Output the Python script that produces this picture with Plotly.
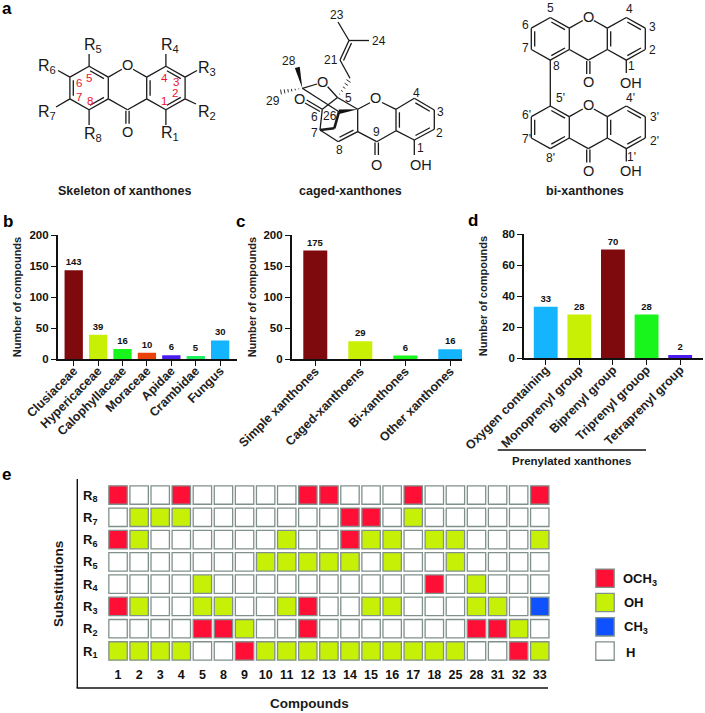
import plotly.graph_objects as go
import math

W, H = 705, 713
FONT = "Liberation Sans"
RED = "#ff0f35"; OHC = "#c6f005"; BLU = "#0f50ff"

# ---- data -----
b_cats = ["Clusiaceae", "Hypericaceae", "Calophyllaceae", "Moraceae", "Apidae", "Crambidae", "Fungus"]
b_vals = [143, 39, 16, 10, 6, 5, 30]
b_cols = ["#7f0a0e", "#c8f005", "#17f51c", "#e8420a", "#4b1cf0", "#1cf060", "#14b4ff"]

c_cats = ["Simple xanthones", "Caged-xanthoens", "Bi-xanthones", "Other xanthones"]
c_vals = [175, 29, 6, 16]
c_cols = ["#7f0a0e", "#c8f005", "#17f51c", "#14b4ff"]

d_cats = ["Oxygen containing", "Monoprenyl group", "Biprenyl group", "Triprenyl grouop", "Tetraprenyl group"]
d_vals = [33, 28, 70, 28, 2]
d_cols = ["#14b4ff", "#c8f005", "#7f0a0e", "#17f51c", "#4b1cf0"]

compounds = ["1","2","3","4","5","8","9","10","11","12","13","14","15","16","17","18","25","28","31","32","33"]
# H = none, M = OCH3, O = OH, C = CH3
R1 = list("OOOOHHMOOOOOOOOOOHHMO")
R2 = list("HHHHMMOHHMHHHHHHHMMOH")
R3 = list("MOHHOOHHOMHHOOHHHOOHC")
R4 = list("HHHHOHHHHHHHHHHMHOHHH")
R5 = list("HHHHHHHOOOOOHOHHOHHHH")
R6 = list("MOHHHHHHOHHMOOHOOHHHO")
R7 = list("HOOOHHHHHHHMMHOHHHHHH")
R8 = list("MHHMHHHHHMMHHHMHHHHHM")
rows = [R1, R2, R3, R4, R5, R6, R7, R8]
row_labels = ["R<sub>%d</sub>" % i for i in range(1, 9)]

kinds = ["M", "O", "C", "H"]
kind_names = ["OCH<sub>3</sub>", "OH", "CH<sub>3</sub>", "H"]
kind_cols = [RED, OHC, BLU, "#ffffff"]

# ---- helpers -----
def px(x): return x / W
def py(y): return 1 - y / H

shapes, ann = [], []

def line(a, b, w=1.3, c="#1a1a1a"):
    shapes.append(dict(type="line", xref="paper", yref="paper", x0=px(a[0]), y0=py(a[1]),
                       x1=px(b[0]), y1=py(b[1]), line=dict(color=c, width=w)))

def text(x, y, s, size=12, bold=False, color="#1a1a1a", angle=0):
    ann.append(dict(x=px(x), y=py(y), xref="paper", yref="paper", text=s, showarrow=False,
                    xanchor="center", yanchor="middle", textangle=angle,
                    font=dict(family=FONT, size=size, color=color, weight=700 if bold else 400)))

def dbl(a, b, cen, off=3.4, trim=0.14):
    mx, my = (a[0]+b[0])/2, (a[1]+b[1])/2
    dx, dy = b[0]-a[0], b[1]-a[1]
    L = math.hypot(dx, dy)
    nx, ny = -dy/L, dx/L
    if (cen[0]-mx)*nx + (cen[1]-my)*ny < 0:
        nx, ny = -nx, -ny
    p = (a[0]+dx*trim+nx*off, a[1]+dy*trim+ny*off)
    q = (b[0]-dx*trim+nx*off, b[1]-dy*trim+ny*off)
    line(p, q)

def chain(pts, **k):
    for a, b in zip(pts, pts[1:]):
        line(a, b, **k)

def wedge(a, b, w=5):
    dx, dy = b[0]-a[0], b[1]-a[1]
    L = math.hypot(dx, dy)
    nx, ny = -dy/L*w/2, dx/L*w/2
    path = "M %f,%f L %f,%f L %f,%f Z" % (px(a[0]), py(a[1]), px(b[0]+nx), py(b[1]+ny), px(b[0]-nx), py(b[1]-ny))
    shapes.append(dict(type="path", xref="paper", yref="paper", path=path, fillcolor="#111", line=dict(width=0)))

def hashed(a, b, n=6, w=5):
    dx, dy = b[0]-a[0], b[1]-a[1]
    L = math.hypot(dx, dy)
    ux, uy = -dy/L, dx/L
    for i in range(1, n+1):
        t = i/n
        h = w*t/2
        cx, cy = a[0]+dx*t, a[1]+dy*t
        line((cx-ux*h, cy-uy*h), (cx+ux*h, cy+uy*h), w=0.9)

def xanthone(cx, top, s=21.3, hw=19.0):
    """two outer rings + pyrone, cx is x of ring O/carbonyl; top is y of O vertex"""
    h = s/2
    y0, y1, y2, y3 = top, top+h, top+h+s, top+2*s
    p = dict(C5=(cx-2*hw, y0), C6=(cx-3*hw, y1), C7=(cx-3*hw, y2), C8=(cx-2*hw, y3),
             C8a=(cx-hw, y2), C4b=(cx-hw, y1), O=(cx, y0), CO=(cx, y3),
             C4a=(cx+hw, y1), C9a=(cx+hw, y2), C4=(cx+2*hw, y0), C3=(cx+3*hw, y1),
             C2=(cx+3*hw, y2), C1=(cx+2*hw, y3))
    chain([p["C5"], p["C6"], p["C7"], p["C8"], p["C8a"], p["C4b"], p["C5"]])
    chain([p["C4a"], p["C4"], p["C3"], p["C2"], p["C1"], p["C9a"], p["C4a"]])
    chain([p["C8a"], p["CO"], p["C9a"]])
    line(p["C4b"], (cx-5.5, y0+3)); line((cx+5.5, y0+3), p["C4a"])
    lc, rc = (cx-2*hw, (y0+y3)/2), (cx+2*hw, (y0+y3)/2)
    for a, b in [("C5", "C4b"), ("C6", "C7"), ("C8", "C8a")]:
        dbl(p[a], p[b], lc)
    for a, b in [("C4a", "C9a"), ("C4", "C3"), ("C2", "C1")]:
        dbl(p[a], p[b], rc)
    line((cx-1.6, y3+1), (cx-1.6, y3+14)); line((cx+1.6, y3+1), (cx+1.6, y3+14))
    text(cx, y0-1, "O", 14.5)
    text(cx, y3+22, "O", 14.5)
    return p

# ---- panel a: skeleton -----
sk = xanthone(127.5, 66.3, s=21.7, hw=19.2)
line(sk["C5"], (sk["C5"][0], 54)); line(sk["C4"], (sk["C4"][0], 54))
line(sk["C8"], (sk["C8"][0], 125)); line(sk["C1"], (sk["C1"][0], 125))
line(sk["C6"], (58, 70.5)); line(sk["C7"], (56, 107))
line(sk["C3"], (197, 70.5)); line(sk["C2"], (196, 104))
for x, y, s in [(92.5, 46, "R<sub>5</sub>"), (169.5, 46, "R<sub>4</sub>"), (47, 67, "R<sub>6</sub>"),
                (47, 112, "R<sub>7</sub>"), (92.5, 135, "R<sub>8</sub>"), (169.5, 134, "R<sub>1</sub>"),
                (207, 68, "R<sub>3</sub>"), (207, 112, "R<sub>2</sub>")]:
    text(x, y, s, 16)
for x, y, s in [(79.3, 82.7, "6"), (89.3, 78.3, "5"), (78.7, 96.7, "7"), (90, 100.7, "8"),
                (164, 77.7, "4"), (176, 81.7, "3"), (175, 93.3, "2"), (164.3, 100.7, "1")]:
    text(x, y, s, 11.5, color="#f01030")
text(124.5, 191, "Skeleton of xanthones", 12.5, True)

# ---- panel a: caged -----
q = (357.7, 109.3); c8a = (357.7, 131.7); c8 = (338.3, 141.7); c7 = (320, 130); c6 = (322.3, 109.3)
oc = (376.7, 141.7); c9a = (396, 130.7); c4a = (396, 109.3); c4 = (414.3, 98.3); c3 = (434.3, 110)
c2 = (434.3, 129.3); c1 = (414.3, 140)
chain([c4a, c4, c3, c2, c1, c9a, c4a])
chain([c8a, oc, c9a]); chain([q, c8a]); chain([c8a, c8, c7, c6])
dbl(c8a, c8, (345, 125))
dbl(c4, c3, (415, 119)); dbl(c2, c1, (415, 119)); dbl(c4a, c9a, (415, 119))
line(c4a, (382, 102.5)); line((370, 102.7), q)
line((375, 142.5), (375, 155)); line((378.4, 142.5), (378.4, 155))
text(375.5, 98.5, "O", 14.5); text(376.7, 164.5, "O", 14.5)
line(c1, (414.3, 155)); text(420.7, 165, "OH", 14.5)
line(c6, (306.7, 100)); line((320, 111.5), (305, 103))
text(299.3, 99, "O", 14.5)
cb = (302.3, 88.3); c5 = (337.5, 97.5); c26 = (339, 111.7)
line(cb, (317, 84)); text(322.7, 82.3, "O", 14.5); line((327.7, 86.7), c5); line(c5, q)
line(c6, c5)
line(cb, c26); wedge(cb, (297.3, 67.3)); hashed(cb, (281, 92))
wedge(q, c26, 4.5)
chain([c26, (334.3, 128.3), c7], w=2.6)
hashed(c5, (348.5, 81), n=5)
chain([(350, 78.3), (340, 60)])
line((340, 60), (349, 40.5)); line((343.5, 60.5), (351.5, 43))
line((349, 40.5), (369, 40.5)); line((349, 40.5), (338, 22))
for x, y, s in [(337, 15, "23"), (379, 40.5, "24"), (331, 60, "21"), (289, 61, "28"), (273.3, 100.7, "29"),
                (348.3, 98.3, "5"), (314, 116.7, "6"), (330, 115.7, "26"), (314, 133.3, "7"), (339, 149.5, "8"),
                (376.7, 132, "9"), (416.7, 93.3, "4"), (440.7, 111.7, "3"), (439.3, 133.3, "2"), (420.7, 148.3, "1")]:
    text(x, y, s, 12)
text(350, 191, "caged-xanthones", 12.5, True)

# ---- panel a: bi-xanthones -----
t1 = xanthone(588.3, 17.5)
t2 = xanthone(588.3, 106)
line(t1["C8"], t2["C5"])
for t in (t1, t2):
    line(t["C1"], (t["C1"][0], t["C1"][1] + 13))
    text(t["C1"][0] + 5, t["C1"][1] + 22.5, "OH", 14.5)
for x, y, s in [(550.7, 8.3, "5"), (629, 9.3, "4"), (652.7, 26.7, "3"), (652.7, 50, "2"), (631.7, 66, "1"), (525, 25, "6"),
                (525, 48.3, "7"), (556.7, 65.7, "8"), (560, 98.3, "5'"), (630.7, 98.3, "4'"), (654, 116.7, "3'"),
                (654, 140.7, "2'"), (631.7, 156.7, "1'"), (526.7, 115, "6'"), (526, 139.3, "7'"), (550.7, 157.7, "8'")]:
    text(x, y, s, 12)
text(585, 191, "bi-xanthones", 12.5, True)

# ---- panel letters -----
for x, y, s in [(7, 8, "a"), (7.5, 221, "b"), (240, 221, "c"), (472.7, 220, "d"), (6, 474, "e")]:
    text(x, y, s, 17, True, "#000000")

# ---- figure -----
fig = go.Figure()
TF = dict(family=FONT, size=11.5, color="#111", weight=700)
CF = dict(family=FONT, size=12.5, color="#222", weight=700)

def bars(cats, vals, cols, xa, ya, w):
    fig.add_trace(go.Bar(x=cats, y=vals, marker=dict(color=cols, line=dict(width=0)), width=w,
                         text=vals, textposition="outside", cliponaxis=False,
                         textfont=dict(family=FONT, size=9.5, color="#111", weight=700),
                         xaxis=xa, yaxis=ya, showlegend=False))

def bar_axes(n, dom_x, dom_y, rng_x, rng_y, dtick, cats, standoff):
    s = "" if n == 1 else str(n)
    fig.layout["xaxis"+s] = dict(domain=[px(dom_x[0]), px(dom_x[1])], anchor="y"+s, type="category", automargin=False,
        range=rng_x, categoryorder="array", categoryarray=cats, showline=True, linecolor="#111", linewidth=1.5,
        ticks="outside", ticklen=5, tickwidth=1.3, tickcolor="#111", tickangle=-45, tickfont=CF, showgrid=False, zeroline=False,
        ticklabelstandoff=-7)
    fig.layout["yaxis"+s] = dict(domain=[py(dom_y[1]), py(dom_y[0])], anchor="x"+s, range=rng_y, dtick=dtick, automargin=False,
        showline=True, linecolor="#111", linewidth=1.5, ticks="outside", ticklen=5, tickwidth=1.3, tickcolor="#111",
        tickfont=TF, showgrid=False, zeroline=False,
        title=dict(text="Number of compounds", font=dict(family=FONT, size=11, color="#222", weight=700), standoff=standoff))

bars(b_cats, b_vals, b_cols, "x", "y", 0.75)
bar_axes(1, (57.7, 237), (235, 359), [-0.656, 6.69], [0, 200], 50, b_cats, 6)
bars(c_cats, c_vals, c_cols, "x2", "y2", 0.533)
bar_axes(2, (291.7, 462), (235, 359.3), [-0.524, 3.26], [0, 200], 50, c_cats, 5)
bars(d_cats, d_vals, d_cols, "x3", "y3", 0.71)
bar_axes(3, (524, 702.7), (234, 358), [-0.646, 4.67], [0, 80], 20, d_cats, 12)

line((497.7, 450), (646, 450), w=1.3, c="#111")
text(572, 460.5, "Prenylated xanthones", 11.5, True)

# ---- panel e -----
for k, nm, col in zip(kinds, kind_names, kind_cols):
    xs, ys = [], []
    for r, row in enumerate(rows):
        for i, v in enumerate(row):
            if v == k:
                xs.append(compounds[i]); ys.append(row_labels[r])
    fig.add_trace(go.Scatter(x=xs, y=ys, mode="markers", xaxis="x4", yaxis="y4", showlegend=False, name=nm,
                             marker=dict(symbol="square", size=18.4, color=col, line=dict(color="#80908c", width=1.3))))

fig.layout["xaxis4"] = dict(domain=[px(107.5), px(550.3)], anchor="y4", type="category", range=[-0.5, 20.5], automargin=False,
    categoryorder="array", categoryarray=compounds, showline=False, ticks="", showgrid=False, zeroline=False,
    tickfont=dict(family=FONT, size=12.5, color="#111", weight=700), ticklabelstandoff=3)
fig.layout["yaxis4"] = dict(domain=[py(662.1), py(483.9)], anchor="x4", type="category", range=[-0.5, 7.5], automargin=False,
    categoryorder="array", categoryarray=row_labels, showline=False, ticks="", showgrid=False, zeroline=False,
    tickfont=dict(family=FONT, size=13, color="#111", weight=700), ticklabelstandoff=9)

line((77.3, 479), (77.3, 688), w=1.4, c="#111"); line((76.6, 688), (548, 688), w=1.4, c="#111")
text(58, 584, "Substitutions", 13.5, True, angle=-90)
text(309, 703, "Compounds", 13.5, True)

# legend built in its own axes
fig.add_trace(go.Scatter(x=[0]*4, y=kinds, mode="markers", xaxis="x5", yaxis="y5", showlegend=False,
                         marker=dict(symbol="square", size=18.4, color=kind_cols, line=dict(color="#80908c", width=1.3))))
fig.layout["xaxis5"] = dict(domain=[px(590), px(620)], anchor="y5", range=[-1, 1], visible=False, automargin=False)
fig.layout["yaxis5"] = dict(domain=[py(663.2), py(566.1)], anchor="x5", type="category", range=[-0.5, 3.5], automargin=False,
                            categoryorder="array", categoryarray=kinds[::-1], visible=False)
for (x, y), s in zip([(640, 579), (634, 602.5), (636, 627), (630, 652)], kind_names):
    text(x, y, s, 13, True, "#111")

fig.update_layout(width=W, height=H, margin=dict(l=0, r=0, t=0, b=0, autoexpand=False), paper_bgcolor="white", plot_bgcolor="white",
                  shapes=shapes, annotations=ann, font=dict(family=FONT), bargap=0.2)
fig.write_html("out.html", config={"displayModeBar": False}, post_script="document.body.style.margin='0';")
